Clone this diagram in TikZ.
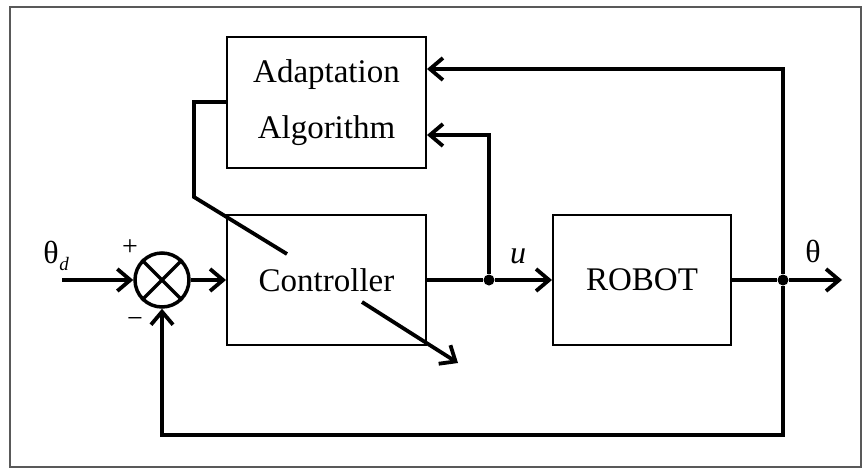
\documentclass[tikz,border=0pt]{standalone}
\usepackage{fontspec}
\setmainfont{Liberation Serif}
\usetikzlibrary{arrows.meta}
\begin{document}
\begin{tikzpicture}[x=1pt,y=-1pt,
  box/.style={draw,line width=2pt,inner sep=0pt,font=\fontsize{33}{39}\selectfont,align=center},
  conn/.style={line width=3.8pt,-{Straight Barb[length=13pt,width=22pt]}},
  wire/.style={line width=3.8pt},
  lbl/.style={inner sep=0pt,font=\fontsize{32}{38}\selectfont},
  dot/.style={circle,fill,inner sep=0pt,minimum size=11pt}]
\useasboundingbox (0,0) rectangle (862,469);
\draw[line width=1.8pt,black!65] (10,7) rectangle (861,467);
% blocks
\node[box,minimum width=199pt,minimum height=131pt] (adapt) at (326.5,102.5) {Adaptation\\[17pt]Algorithm};
\node[box,minimum width=199pt,minimum height=130pt] (ctrl) at (326.5,280) {Controller};
\node[box,minimum width=178pt,minimum height=130pt] (robot) at (642,280) {ROBOT};
\node[draw,circle,line width=3.5pt,minimum size=54pt,inner sep=0pt] (sum) at (162,280) {};
\draw[line width=3.5pt] (sum.north west) -- (sum.south east) (sum.north east) -- (sum.south west);
% points
\coordinate (thd) at (62,280);
\node[dot] (j1) at (489,280) {};
\node[dot] (j2) at (783,280) {};
\coordinate (out) at (842,280);
\coordinate (fb) at (783,435);
\coordinate (a1) at (194,102);
\coordinate (a2) at (194,197);
\coordinate (a3) at (287,254);
\coordinate (b1) at (362,302);
\coordinate (b2) at (458,363);
% connectors
\draw[conn] (thd) -- (sum.west);
\draw[conn] (sum.east) -- (ctrl.west);
\draw[wire] (ctrl.east) -- (j1);
\draw[conn] (j1) -- (robot.west);
\draw[wire] (robot.east) -- (j2);
\draw[conn] (j2) -- (out);
\draw[conn] (j2) -- (fb) -| (sum.south);
\draw[conn] (j2) |- ([yshift=33.5pt]adapt.east);
\draw[conn] (j1) |- ([yshift=-32.5pt]adapt.east);
\draw[wire] ([yshift=0.5pt]adapt.west) -- (a1) -- (a2) -- (a3);
\draw[conn] (b1) -- (b2);
% labels
\node[lbl] (lthd) at (51,252) {θ};
\node[lbl,font=\fontsize{19}{19}\selectfont\itshape] (ld) at (64,264) {d};
\node[lbl,font=\fontsize{28}{28}\selectfont] (lplus) at (130,248) {+};
\node[lbl,font=\fontsize{28}{28}\selectfont] (lminus) at (135,322) {−};
\node[lbl,font=\fontsize{32}{38}\selectfont\itshape] (lu) at (518,256) {u};
\node[lbl] (lth) at (813,251) {θ};
\end{tikzpicture}
\end{document}
